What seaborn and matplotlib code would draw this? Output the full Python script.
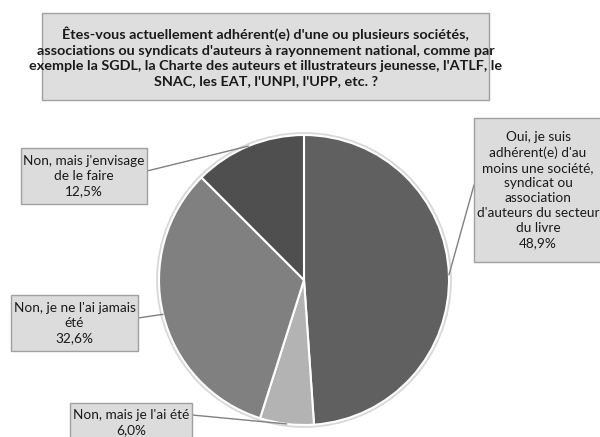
import numpy as np
import matplotlib
matplotlib.use("Agg")
import matplotlib.pyplot as plt
from matplotlib.patches import Rectangle, Circle
import seaborn as sns

# Data
categories = [
    "Oui, je suis\nadhérent(e) d'au\nmoins une société,\nsyndicat ou\nassociation\nd'auteurs du secteur\ndu livre",
    "Non, mais je l'ai été",
    "Non, je ne l'ai jamais\nété",
    "Non, mais j'envisage\nde le faire",
]
shares = [48.9, 6.0, 32.6, 12.5]
pct_labels = ["48,9%", "6,0%", "32,6%", "12,5%"]
slice_colors = ["#606060", "#b3b3b3", "#808080", "#4f4f4f"]

title = ("Êtes-vous actuellement adhérent(e) d'une ou plusieurs sociétés,\n"
         "associations ou syndicats d'auteurs à rayonnement national, comme par\n"
         "exemple la SGDL, la Charte des auteurs et illustrateurs jeunesse, l'ATLF, le\n"
         "SNAC, les EAT, l'UNPI, l'UPP, etc. ?")

sns.set_style("white")
plt.rcParams["font.family"] = ["Lato", "DejaVu Sans"]

W, H = 600, 437
fig = plt.figure(figsize=(6, 4.37), dpi=100)
ax = fig.add_axes([0, 0, 1, 1])

# pie (image coords: centre 304,280, radius 145)
cx, cy, r = 304, H - 280, 145
ax.add_patch(Circle((cx, cy), r + 1.5, facecolor="none", edgecolor="#d8d8d8", lw=2, zorder=1))
wedges, _ = ax.pie(shares, colors=sns.color_palette(slice_colors), startangle=90,
                   counterclock=False, center=(cx, cy), radius=r,
                   wedgeprops=dict(edgecolor="white", linewidth=1.5), frame=True)
ax.set_xlim(0, W)
ax.set_ylim(0, H)
ax.set_aspect("equal")
ax.axis("off")

# title box
ax.add_patch(Rectangle((42, H - 100), 447, 87, facecolor="#dedede", edgecolor="#a0a0a0", lw=1, zorder=3))
ax.text(265.5, H - 57, title, ha="center", va="center", fontsize=10.4, fontweight="bold",
        color="#1a1a1a", linespacing=1.35, zorder=4)

# label boxes (x0, y0 top, x1, y1 bottom in image px)
boxes = [(474, 118, 602, 262), (70, 403, 192, 442), (11, 295, 138, 351), (21, 148, 147, 204)]
anchors = [(474, 185), (192, 415), (138, 318), (147, 171)]
for w, cat, pct, (x0, y0, x1, y1), (axx, ayy) in zip(wedges, categories, pct_labels, boxes, anchors):
    mid = np.deg2rad((w.theta1 + w.theta2) / 2)
    ex, ey = cx + r * np.cos(mid), cy + r * np.sin(mid)
    ax.plot([axx, ex], [H - ayy, ey], color="#808080", lw=1, zorder=2)
    ax.add_patch(Rectangle((x0, H - y1), x1 - x0, y1 - y0, facecolor="#dcdcdc",
                           edgecolor="#a0a0a0", lw=1, zorder=3))
    ax.text((x0 + x1) / 2, H - (y0 + y1) / 2, cat + "\n" + pct, ha="center", va="center",
            fontsize=9.8, color="#1a1a1a", linespacing=1.3, zorder=4)

fig.savefig("out.png", dpi=100)
